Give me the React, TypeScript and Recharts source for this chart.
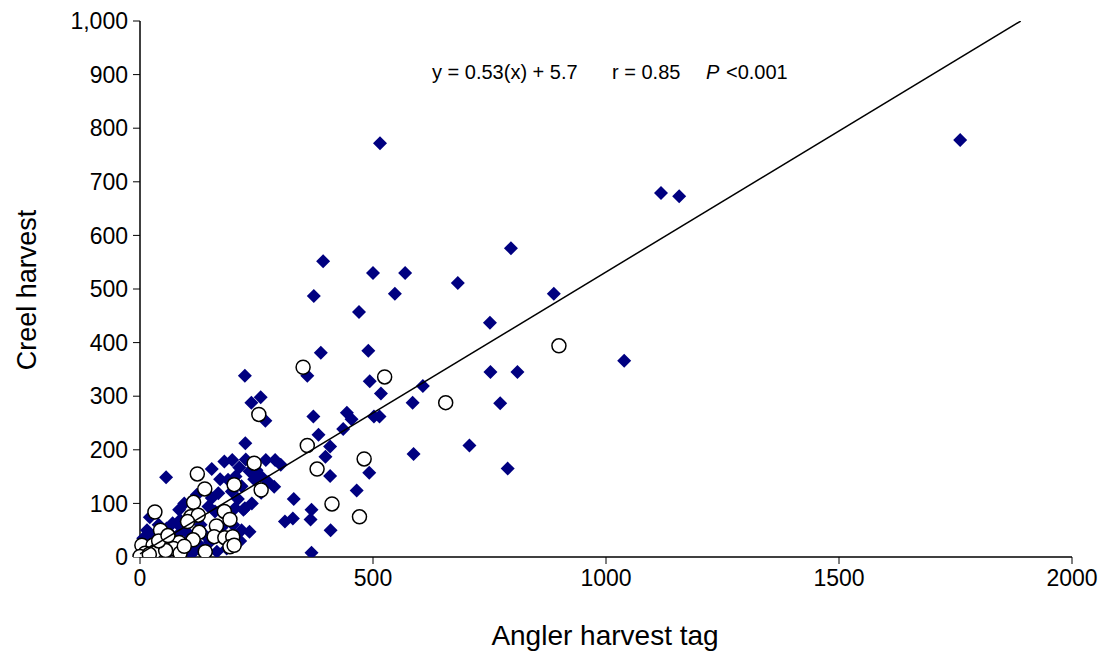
import { ScatterChart, Scatter, XAxis, YAxis } from 'recharts';

// angler harvest tag (x) vs creel harvest (y)
const filledPoints: [number, number][] = [
  [515, 772], [1760, 778], [1118, 679], [1157, 673], [796, 576], [393, 552],
  [500, 530], [569, 530], [888, 491], [547, 491], [373, 487], [682, 511],
  [470, 457], [751, 437], [1039, 366], [388, 381], [490, 385], [359, 338],
  [225, 338], [493, 328], [752, 345], [810, 345], [517, 305], [607, 319],
  [585, 288], [773, 287], [372, 262], [444, 269], [454, 257], [502, 262],
  [514, 262], [436, 239], [383, 228], [408, 206], [398, 187], [707, 208],
  [587, 192], [789, 165], [408, 151], [492, 157], [465, 124], [368, 88],
  [366, 70], [409, 50], [368, 8], [330, 108], [311, 66], [328, 72],
  [259, 298], [239, 288], [269, 254], [226, 212], [181, 178], [198, 181],
  [213, 167], [227, 182], [270, 181], [290, 181], [154, 164], [250, 162],
  [259, 151], [302, 172], [56, 149], [172, 145], [189, 144], [218, 132],
  [245, 145], [288, 131], [122, 116], [154, 110], [168, 119], [197, 122],
  [210, 108], [225, 91], [84, 88], [21, 74], [147, 94], [161, 85],
  [204, 91], [222, 88], [70, 63], [86, 69], [57, 53], [235, 47],
  [218, 50], [86, 57], [100, 47], [186, 16], [118, 13], [7, 35],
  [29, 38], [50, 38], [64, 44], [10, 5], [20, 15], [35, 5], [45, 20],
  [60, 8], [75, 25], [90, 12], [100, 30], [110, 5], [130, 20], [140, 40],
  [150, 28], [165, 10], [175, 55], [200, 60], [215, 30], [240, 100],
  [260, 120], [275, 140], [235, 160], [205, 150], [130, 60], [120, 85],
  [95, 100], [105, 72], [80, 40], [15, 50], [40, 60],
];

const openPoints: [number, number][] = [
  [350, 354], [525, 336], [656, 288], [899, 394], [255, 266], [359, 208],
  [481, 183], [380, 164], [412, 99], [471, 75], [245, 175], [123, 155],
  [202, 135], [260, 125], [139, 127], [115, 102], [32, 84], [109, 75],
  [125, 78], [181, 85], [193, 70], [44, 50], [164, 58], [102, 66],
  [127, 46], [159, 38], [182, 36], [199, 38], [193, 19], [202, 22],
  [140, 10], [114, 32], [67, 30], [84, 27], [72, 16], [86, 7],
  [49, 1], [4, 22], [28, 22], [11, 7], [0, 1], [32, 10],
  [20, 5], [55, 12], [40, 30], [95, 20], [60, 40],
];

const xTicks = [0, 500, 1000, 1500, 2000];
const yTicks = [0, 100, 200, 300, 400, 500, 600, 700, 800, 900, 1000];

// regression: y = 0.53(x) + 5.7 (slope shown rounded on the figure)
const slope = 0.526;
const intercept = 5.7;
const trendX = [0, 1890];

const filledData = filledPoints.map(([x, y]) => ({ x, y }));
const openData = openPoints.map(([x, y]) => ({ x, y }));
const trendData = trendX.map((x) => ({ x, y: slope * x + intercept }));

const FONT = '"Liberation Sans", Arial, sans-serif';

const Diamond = (props: any) => {
  const { cx, cy } = props;
  const r = 7;
  return <path d={`M${cx},${cy - r}L${cx + r},${cy}L${cx},${cy + r}L${cx - r},${cy}Z`} fill="#000080" />;
};

const OpenCircle = (props: any) => {
  const { cx, cy } = props;
  return <circle cx={cx} cy={cy} r={7} fill="#fff" stroke="#000" strokeWidth={1.5} />;
};

const NoDot = () => <g />;

export default function App() {
  return (
    <div style={{ position: 'absolute', left: 0, top: 0, background: '#fff' }}>
      <ScatterChart width={1103} height={654} margin={{ top: 21, right: 31, left: 0, bottom: 0 }}>
        <XAxis
          type="number"
          dataKey="x"
          domain={[0, 2000]}
          ticks={xTicks}
          height={97}
          tickSize={7}
          tickMargin={6}
          axisLine={{ stroke: '#000', strokeWidth: 1.5 }}
          tickLine={{ stroke: '#000' }}
          tick={{ fill: '#000', fontSize: 23, fontFamily: FONT }}
        />
        <YAxis
          type="number"
          dataKey="y"
          domain={[0, 1000]}
          allowDataOverflow
          ticks={yTicks}
          width={140}
          tickSize={7}
          tickMargin={5}
          tickFormatter={(v: number) => v.toLocaleString('en-US')}
          axisLine={{ stroke: '#000', strokeWidth: 1.5 }}
          tickLine={{ stroke: '#000' }}
          tick={{ fill: '#000', fontSize: 23, fontFamily: FONT }}
        />
        <Scatter data={filledData} shape={Diamond} isAnimationActive={false} />
        <Scatter data={openData} shape={OpenCircle} isAnimationActive={false} />
        <Scatter
          data={trendData}
          line={{ stroke: '#000', strokeWidth: 1.5 }}
          shape={NoDot}
          isAnimationActive={false}
        />
        <text x={605} y={645} textAnchor="middle" fontSize={28} fontFamily={FONT} fill="#000">
          Angler harvest tag
        </text>
        <text
          x={36}
          y={290}
          textAnchor="middle"
          fontSize={27}
          fontFamily={FONT}
          fill="#000"
          transform="rotate(-90 36 290)"
        >
          Creel harvest
        </text>
        <text y={79} fontSize={20} fontFamily={FONT} fill="#000">
          <tspan x={432}>y = 0.53(x) + 5.7</tspan>
          <tspan x={612}>r = 0.85</tspan>
          <tspan x={706} fontStyle="italic">P</tspan>
          <tspan x={726}>{'<0.001'}</tspan>
        </text>
      </ScatterChart>
    </div>
  );
}
